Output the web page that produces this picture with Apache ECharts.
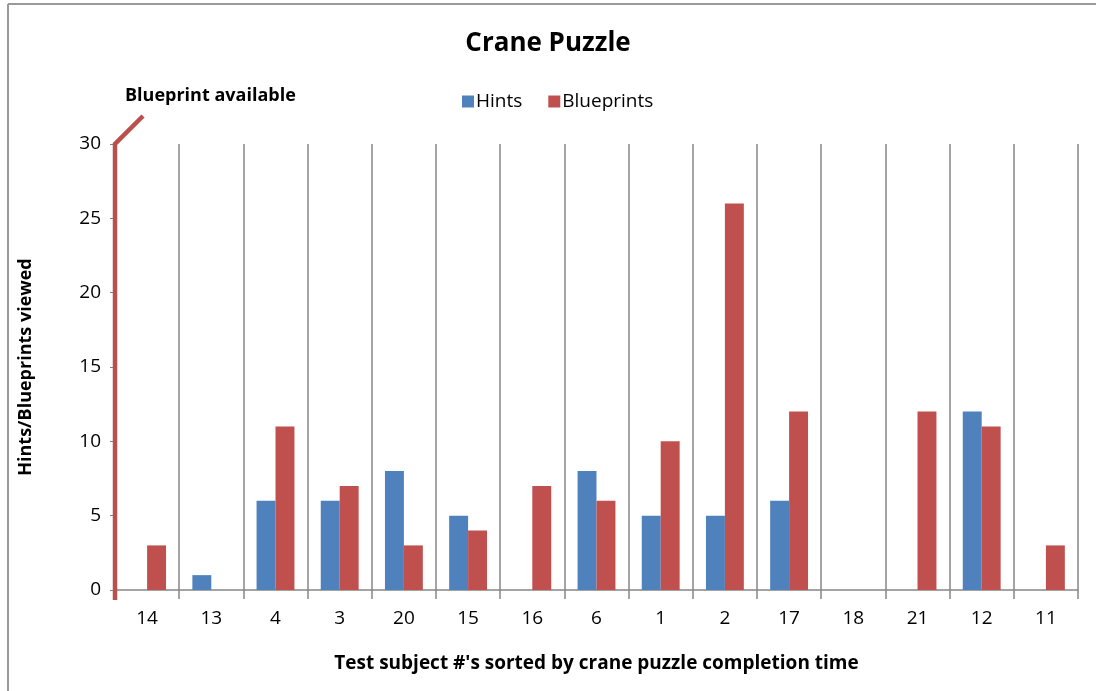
<!DOCTYPE html>
<html>
<head>
<meta charset="utf-8">
<script src="https://cdn.jsdelivr.net/npm/echarts@6/dist/echarts.min.js"></script>
<style>
  html, body { margin: 0; padding: 0; background: #fff; }
  #chart { width: 1096px; height: 691px; }
</style>
</head>
<body>
<div id="chart"></div>
<script>
// Test subjects, ordered by crane puzzle completion time
const subjects = ['14', '13', '4', '3', '20', '15', '16', '6', '1', '2', '17', '18', '21', '12', '11'];
const hints = [0, 1, 6, 6, 8, 5, 0, 8, 5, 5, 6, 0, 0, 12, 0];
const blueprints = [3, 0, 11, 7, 3, 4, 7, 6, 10, 26, 12, 0, 12, 11, 3];
const yTicks = { min: 0, max: 30, interval: 5 };

const FONT = '"Open Sans", "Noto Sans", sans-serif';
const GRID = { left: 115, right: 18, top: 144, bottom: 101 };
const W = 1096, H = 691;
const plotBottom = H - GRID.bottom;

const chart = echarts.init(document.getElementById('chart'), null, { renderer: 'canvas' });

chart.setOption({
  backgroundColor: '#ffffff',
  animation: false,
  title: {
    text: 'Crane Puzzle',
    left: 'center',
    top: 26,
    textStyle: { fontFamily: FONT, fontSize: 26, fontWeight: 'bold', color: '#000' }
  },
  legend: {
    data: ['Hints', 'Blueprints'],
    left: 457,
    top: 87,
    itemWidth: 12,
    itemHeight: 12,
    itemGap: 26,
    icon: 'rect',
    textStyle: { fontFamily: FONT, fontSize: 19, color: '#000', padding: [0, 0, 0, -3] }
  },
  grid: GRID,
  xAxis: {
    type: 'category',
    data: subjects,
    name: "Test subject #'s sorted by crane puzzle completion time",
    nameLocation: 'middle',
    nameGap: 64,
    nameTextStyle: { fontFamily: FONT, fontSize: 19, fontWeight: 'bold', color: '#000' },
    axisLine: { lineStyle: { color: '#868686', width: 1.5 } },
    axisTick: { show: true, length: 9, lineStyle: { color: '#868686', width: 1.5 } },
    axisLabel: { fontFamily: FONT, fontSize: 19, color: '#000', margin: 19 },
    splitLine: { show: true, lineStyle: { color: '#868686', width: 1.5 } }
  },
  yAxis: {
    type: 'value',
    min: yTicks.min,
    max: yTicks.max,
    interval: yTicks.interval,
    name: 'Hints/Blueprints viewed',
    nameLocation: 'middle',
    nameGap: 80,
    nameRotate: 90,
    nameTextStyle: { fontFamily: FONT, fontSize: 18, fontWeight: 'bold', color: '#000' },
    axisLine: { show: false },
    axisTick: { show: true, length: 5, lineStyle: { color: '#868686' } },
    axisLabel: { fontFamily: FONT, fontSize: 19, color: '#000', margin: 14 },
    splitLine: { show: false }
  },
  series: [
    {
      name: 'Hints',
      type: 'bar',
      data: hints,
      barGap: '0%',
      barCategoryGap: '41%',
      itemStyle: { color: '#4f81bd' }
    },
    {
      name: 'Blueprints',
      type: 'bar',
      data: blueprints,
      itemStyle: { color: '#c0504d' }
    }
  ],
  graphic: [
    // frame edges
    { type: 'line', shape: { x1: 8, y1: 4, x2: 8, y2: H }, style: { stroke: '#9a9a9a', lineWidth: 2 } },
    { type: 'line', shape: { x1: 8, y1: 4, x2: W, y2: 4 }, style: { stroke: '#9a9a9a', lineWidth: 2 } },
    // "Blueprint available" marker along the value axis
    {
      type: 'polyline',
      z: 100,
      shape: {
        points: [
          [GRID.left, plotBottom + 10],
          [GRID.left, GRID.top],
          [GRID.left + 28, GRID.top - 28]
        ]
      },
      style: { stroke: '#b9504e', lineWidth: 4.5, fill: null, lineJoin: 'miter' }
    },
    {
      type: 'text',
      left: 125,
      top: 87,
      style: {
        text: 'Blueprint available',
        font: 'bold 18px ' + FONT,
        fill: '#000'
      }
    }
  ]
});
</script>
</body>
</html>
